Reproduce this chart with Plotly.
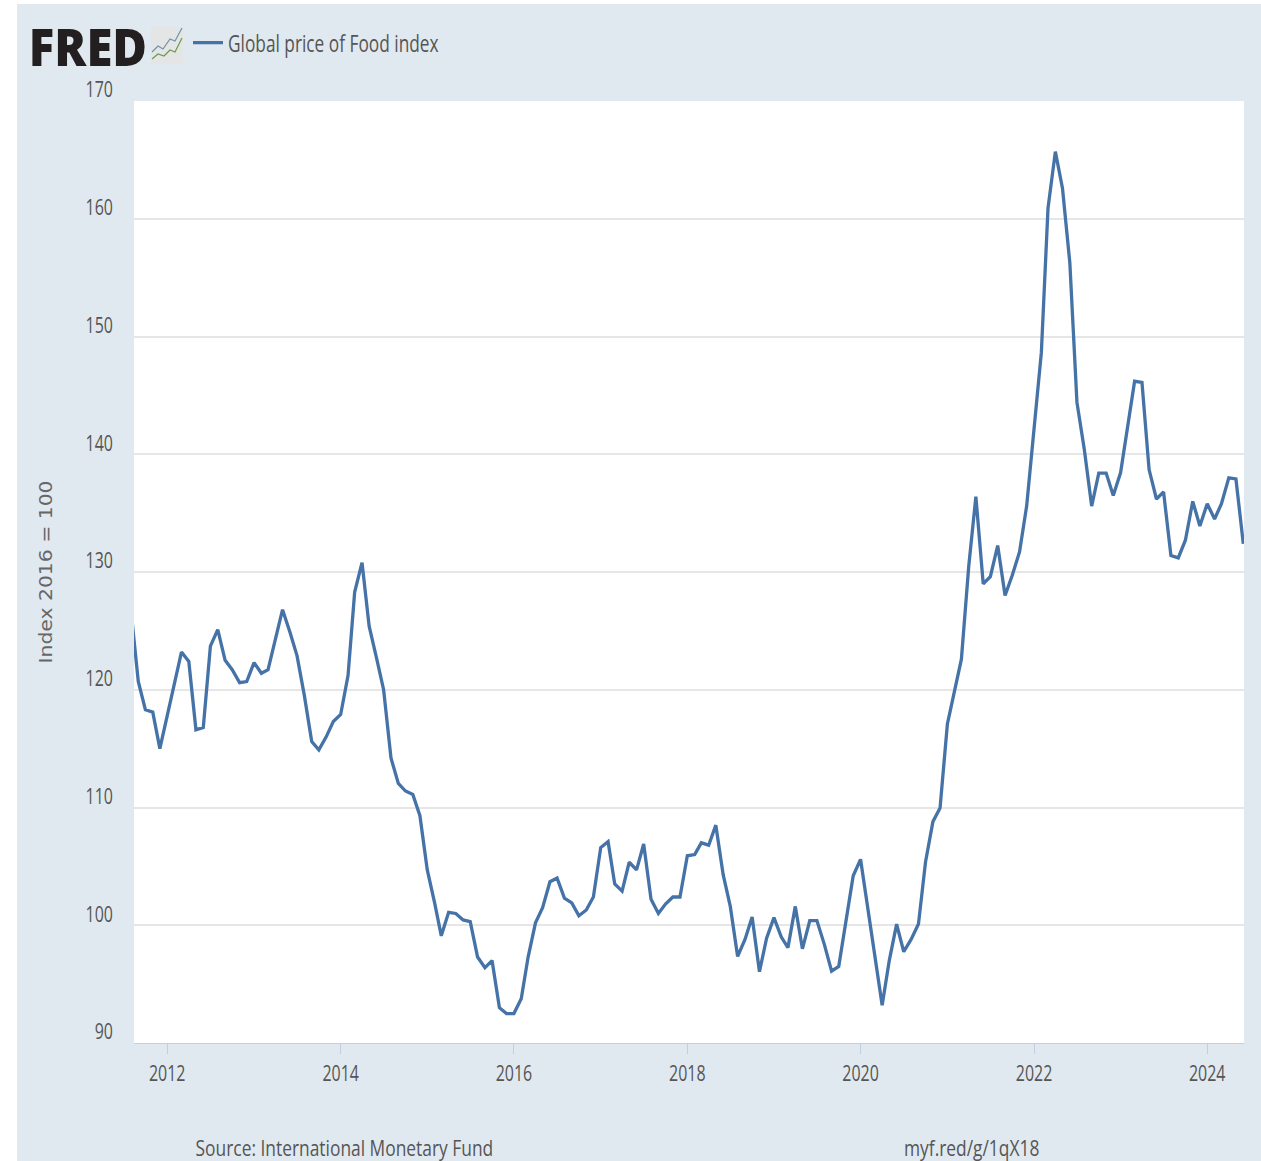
import pandas as pd
import plotly.graph_objects as go

# Monthly values, Aug 2011 - Jun 2024
v2011 = [126.8, 120.7, 118.3, 118.1, 115.0]
v2012 = [117.9, 120.6, 123.2, 122.4, 116.6, 116.8, 123.7, 125.1, 122.5, 121.7, 120.6, 120.7]
v2013 = [122.3, 121.4, 121.7, 124.3, 126.8, 124.9, 122.9, 119.5, 115.6, 114.9, 116.0, 117.3]
v2014 = [117.9, 121.2, 128.3, 130.8, 125.4, 122.7, 120.0, 114.2, 112.05, 111.4, 111.1, 109.3]
v2015 = [104.7, 101.9, 99.1, 101.1, 101.0, 100.45, 100.3, 97.3, 96.4, 97.0, 93.0, 92.5]
v2016 = [92.5, 93.75, 97.3, 100.2, 101.5, 103.7, 104.0, 102.3, 101.9, 100.8, 101.3, 102.4]
v2017 = [106.6, 107.1, 103.5, 102.9, 105.35, 104.7, 106.9, 102.2, 101.0, 101.8, 102.4, 102.4]
v2018 = [105.9, 106.0, 107.0, 106.8, 108.5, 104.3, 101.6, 97.35, 98.8, 100.7, 96.05, 98.9]
v2019 = [100.65, 99.0, 98.1, 101.6, 98.0, 100.4, 100.4, 98.4, 96.1, 96.5, 100.5, 104.2]
v2020 = [105.6, 101.5, 97.4, 93.2, 97.0, 100.1, 97.75, 98.8, 100.1, 105.4, 108.8, 109.95]
v2021 = [117.1, 120.0, 122.6, 130.5, 136.4, 129.0, 129.6, 132.25, 128.0, 129.7, 131.7, 135.6]
v2022 = [142.4, 148.65, 160.9, 165.7, 162.6, 156.25, 144.4, 140.4, 135.6, 138.4, 138.4, 136.5]
v2023 = [138.45, 142.5, 146.2, 146.1, 138.7, 136.2, 136.8, 131.4, 131.2, 132.7, 136.0, 133.9]
v2024 = [135.8, 134.5, 135.8, 138.0, 137.9, 132.4]

food = (v2011 + v2012 + v2013 + v2014 + v2015 + v2016 + v2017 + v2018
        + v2019 + v2020 + v2021 + v2022 + v2023 + v2024)
dates = pd.date_range("2011-08-01", periods=len(food), freq="MS")
y_ticks = [90, 100, 110, 120, 130, 140, 150, 160, 170]
series_name = "Global price of Food index"

W, H = 1261, 1161
L, R, T, B = 134, 1244, 101, 1043
BG = "#e1e9f0"
TXT = "#555555"
FONT = "Open Sans, sans-serif"


def px(x):
    return (x - L) / (R - L)


def py(y):
    return (B - y) / (B - T)


fig = go.Figure(go.Scatter(x=dates, y=food, mode="lines", name=series_name,
                           line=dict(color="#4572a7", width=3.3, shape="linear"),
                           showlegend=True))


def rect(x0, y0, x1, y1, color):
    return dict(type="rect", xref="paper", yref="paper", x0=px(x0), x1=px(x1),
                y0=py(y0), y1=py(y1), fillcolor=color, line=dict(width=0), layer="above")


def path(points, color, width):
    d = "M" + " L".join(f"{px(a):.5f},{py(b):.5f}" for a, b in points)
    return dict(type="path", xref="paper", yref="paper", path=d,
                line=dict(color=color, width=width), layer="above")


shapes = [
    rect(0, 0, 17, H, "white"),
    rect(0, 0, W, 4, "white"),
    # FRED logo tile
    rect(151, 27, 183, 64, "#e4e6e6"),
    path([(152, 52), (158, 46), (163, 49), (170, 39), (175, 41), (182, 28)], "#6f93ad", 1.2),
    path([(152, 59), (158, 54), (164, 56), (170, 50), (175, 52), (182, 38)], "#6e9a45", 1.2),
]

annotations = [
    dict(text="FRED", x=px(21), y=py(45), xref="paper", yref="paper", xanchor="left",
         yanchor="middle", showarrow=False,
         font=dict(family=FONT, size=52, color="#231f20", weight=800)),
    dict(text="Source: International Monetary Fund", x=px(154), y=py(1147), xref="paper",
         yref="paper", xanchor="left", yanchor="middle", showarrow=False,
         font=dict(family=FONT, size=22, color=TXT)),
    dict(text="myf.red/g/1qX18", x=px(884), y=py(1147), xref="paper", yref="paper",
         xanchor="left", yanchor="middle", showarrow=False,
         font=dict(family=FONT, size=22, color=TXT)),
]

fig.update_layout(
    width=W, height=H,
    margin=dict(l=L, r=W - R, t=T, b=H - B, autoexpand=False),
    paper_bgcolor=BG, plot_bgcolor="white",
    shapes=shapes, annotations=annotations,
    showlegend=True,
    legend=dict(x=px(188), y=py(43), xanchor="left", yanchor="middle", bgcolor="rgba(0,0,0,0)",
                font=dict(family=FONT, size=24, color=TXT), itemwidth=30),
    xaxis=dict(
        range=["2011-08-14", "2024-06-04"], type="date", tick0="2012-01-01", dtick="M24",
        tickformat="%Y", ticks="outside", ticklen=10, tickcolor="#c0d0e0", tickwidth=1,
        showline=True, linecolor="#c0d0e0", linewidth=1, showgrid=False, zeroline=False,
        ticklabelstandoff=2,
        tickfont=dict(family=FONT, size=21, color=TXT),
    ),
    yaxis=dict(
        range=[90, 170], tickvals=y_ticks, ticks="", showgrid=True,
        gridcolor="#e6e6e6", gridwidth=1.5, zeroline=False, showline=False,
        ticklabelstandoff=20, ticklabelshift=-11,
        tickfont=dict(family=FONT, size=21, color=TXT),
        title=dict(text="Index 2016 = 100", standoff=19,
                   font=dict(family="DejaVu Sans", size=18, color="#666666")),
    ),
)

# The reference's text is horizontally squeezed; no condensed face is installed,
# so the real text elements get an SVG textLength.
POST = """
document.body.style.margin = '0';
function fit(sel, f) {
  document.querySelectorAll(sel).forEach(function (t) {
    if (t.hasAttribute('textLength')) return;
    var n = t.getComputedTextLength();
    if (!n) return;
    var k = typeof f === 'function' ? f(t) : f;
    t.setAttribute('textLength', (n * k).toFixed(2));
    t.setAttribute('lengthAdjust', 'spacingAndGlyphs');
  });
}
function squeezeAll() {
  fit('.xtick text, .ytick text', 0.76);
  fit('.legendtext', 0.72);
  fit('.ytitle', 1.13);
  fit('.annotation-text', function (t) { return t.textContent === 'FRED' ? 0.91 : 0.79; });
}
squeezeAll();
[50, 300, 800].forEach(function (ms) { setTimeout(squeezeAll, ms); });
"""

fig.write_html("out.html", config={"displayModeBar": False}, post_script=POST)
